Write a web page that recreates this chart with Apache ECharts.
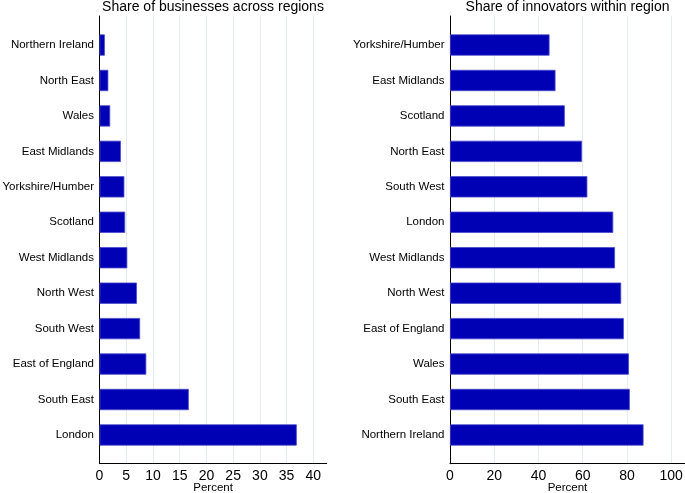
<!DOCTYPE html>
<html>
<head>
<meta charset="utf-8">
<script src="https://cdn.jsdelivr.net/npm/echarts@6/dist/echarts.min.js"></script>
<style>html,body{margin:0;padding:0;background:#fff}#c{width:685px;height:493px}</style>
</head>
<body>
<div id="c"></div>
<script>
var leftTitle = 'Share of businesses across regions';
var rightTitle = 'Share of innovators within region';
var leftCategories = ['Northern Ireland','North East','Wales','East Midlands','Yorkshire/Humber','Scotland','West Midlands','North West','South West','East of England','South East','London'];
var leftValues = [1.0, 1.65, 2.0, 4.0, 4.65, 4.8, 5.2, 7.0, 7.6, 8.75, 16.7, 36.9];
var rightCategories = ['Yorkshire/Humber','East Midlands','Scotland','North East','South West','London','West Midlands','North West','East of England','Wales','South East','Northern Ireland'];
var rightValues = [45.0, 47.7, 51.9, 59.7, 62.1, 73.8, 74.6, 77.4, 78.6, 80.9, 81.3, 87.5];
var leftTicks = {min: 0, max: 42.5, interval: 5};
var rightTicks = {min: 0, max: 106.25, interval: 20};
var axisTitle = 'Percent';

var FONT = '"Liberation Sans", Arial, sans-serif';
var chart = echarts.init(document.getElementById('c'), null, {renderer: 'canvas'});

var gridL = {left: 99.5, right: 358.3};
var gridR = {left: 450, right: 0};
var frameTop = 16, frameBottom = 29.3, barTop = 27.3, barBottom = 40.3;

function frameX(gi, t) {
  return {
    type: 'value', gridIndex: gi, min: t.min, max: t.max, interval: t.interval,
    name: axisTitle, nameLocation: 'middle', nameGap: 18, nameMoveOverlap: false,
    nameTextStyle: {fontFamily: FONT, fontSize: 11.5, color: '#000', verticalAlign: 'top'},
    axisLine: {show: true, onZero: false, lineStyle: {color: '#000', width: 1}},
    axisTick: {show: false},
    axisLabel: {show: true, fontFamily: FONT, fontSize: 14, color: '#000', margin: 5, showMaxLabel: false},
    splitLine: {show: true, showMinLine: false, showMaxLine: false, lineStyle: {color: '#e3ecf1', width: 1}}
  };
}
function frameY(gi) {
  return {
    type: 'value', gridIndex: gi, min: 0, max: 1,
    axisLine: {show: true, onZero: false, lineStyle: {color: '#000', width: 1}},
    axisTick: {show: false}, axisLabel: {show: false}, splitLine: {show: false}
  };
}
function barX(gi, t) {
  return {type: 'value', gridIndex: gi, min: t.min, max: t.max, interval: t.interval, show: false};
}
function barY(gi, cats) {
  return {
    type: 'category', gridIndex: gi, data: cats, inverse: true,
    axisLine: {show: false}, axisTick: {show: false},
    axisLabel: {fontFamily: FONT, fontSize: 11.5, color: '#000', margin: 5.5},
    splitLine: {show: false}
  };
}
function barSeries(xi, vals) {
  return {
    type: 'bar', xAxisIndex: xi, yAxisIndex: xi, data: vals,
    barCategoryGap: '40%',
    itemStyle: {color: '#0000b4', borderColor: '#4a4acc', borderWidth: 0.8},
    silent: true
  };
}
function grid(g, top, bottom) {
  return {left: g.left, right: g.right, top: top, bottom: bottom, containLabel: false, outerBoundsMode: 'none'};
}

chart.setOption({
  animation: false,
  title: [
    {text: leftTitle, left: 208, top: -5, textAlign: 'center', textStyle: {fontFamily: FONT, fontSize: 14, fontWeight: 'normal', color: '#000'}},
    {text: rightTitle, left: 562.5, top: -5, textAlign: 'center', textStyle: {fontFamily: FONT, fontSize: 14, fontWeight: 'normal', color: '#000'}}
  ],
  grid: [
    grid(gridL, frameTop, frameBottom),
    grid(gridL, barTop, barBottom),
    grid(gridR, frameTop, frameBottom),
    grid(gridR, barTop, barBottom)
  ],
  xAxis: [frameX(0, leftTicks), barX(1, leftTicks), frameX(2, rightTicks), barX(3, rightTicks)],
  yAxis: [frameY(0), barY(1, leftCategories), frameY(2), barY(3, rightCategories)],
  series: [barSeries(1, leftValues), barSeries(3, rightValues)]
});
</script>
</body>
</html>
